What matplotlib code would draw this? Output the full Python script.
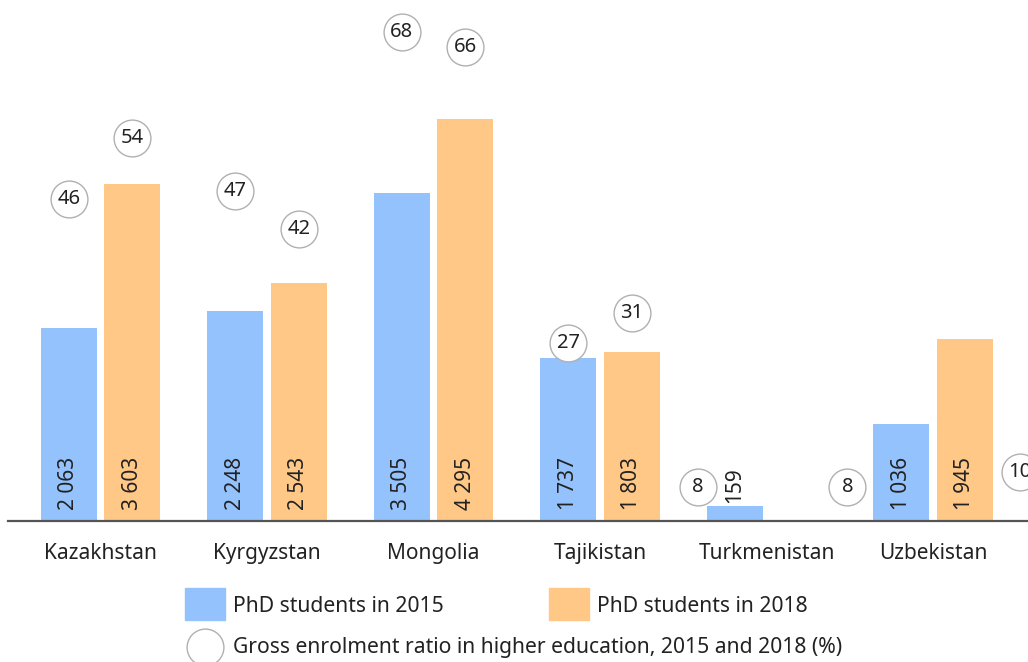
import matplotlib.pyplot as plt
from matplotlib.patches import Rectangle

countries = ['Kazakhstan', 'Kyrgyzstan', 'Mongolia', 'Tajikistan', 'Turkmenistan', 'Uzbekistan']
phd_2015 = [2063, 2248, 3505, 1737, 159, 1036]
phd_2018 = [3603, 2543, 4295, 1803, None, 1945]
ger_2015 = [46, 47, 68, 27, 8, None]
ger_2018 = [54, 42, 66, 31, 8, 10]

blue = '#94c2fc'
orange = '#ffc886'
plt.rcParams['font.family'] = ['Noto Sans', 'DejaVu Sans']

W, H = 1028, 662
fig = plt.figure(figsize=(W / 100, H / 100), dpi=100)
# axes run past the right edge, like the cropped original
ax = fig.add_axes([8 / W, (H - 521) / H, 1092 / W, 521 / H])
ax2 = ax.twinx()

bw = 0.336
off = 0.19
x = list(range(len(countries)))

def fmt(v):
    return f'{v:,}'.replace(',', ' ')

for i in x:
    for vals, col, dx in ((phd_2015, blue, -off), (phd_2018, orange, off)):
        v = vals[i]
        if v is None:
            continue
        ax.bar(i + dx, v, width=bw, color=col, zorder=2)
        if v > 500:
            ax.annotate(fmt(v), (i + dx, 0), xytext=(0, 8), textcoords='offset points',
                        rotation=90, ha='center', va='bottom', fontsize=15, color='#222')
        else:
            ax.annotate(fmt(v), (i + dx, v), xytext=(0, 2), textcoords='offset points',
                        rotation=90, ha='center', va='bottom', fontsize=15, color='#222')

ax.set_xlim((8 - 100.5) / 166.5, (1100 - 100.5) / 166.5)
ax.set_ylim(0, 5566)
ax.set_xticks(x)
ax.set_xticklabels(countries, fontsize=15, color='#222')
ax.tick_params(axis='x', length=0, pad=16)
ax.set_yticks([])
for s in ['top', 'right', 'left']:
    ax.spines[s].set_visible(False)
ax.spines['bottom'].set_color('#555')
ax.spines['bottom'].set_linewidth(1.6)

# enrolment circles on a second scale
shift_2015 = {4: -0.414}
shift_2018 = {4: 0.486, 5: 0.52}
ax2.set_ylim(3.56, 72.2)
ax2.set_yticks([])
for s in ax2.spines.values():
    s.set_visible(False)
for i in x:
    for vals, dx in ((ger_2015, shift_2015.get(i, -off)), (ger_2018, shift_2018.get(i, off))):
        v = vals[i]
        if v is None:
            continue
        ax2.plot(i + dx, v, 'o', ms=26.5, mfc='white', mec='#b0b0b0', mew=1.0, zorder=3,
                 clip_on=False)
        ax2.text(i + dx, v, str(v), ha='center', va='center', fontsize=14.5, color='#222',
                 zorder=4)

# legend drawn by hand
def fx(px):
    return px / W

def fy(py):
    return (H - py) / H

fig.add_artist(Rectangle((fx(185), fy(620)), 40 / W, 32 / H, transform=fig.transFigure,
                         color=blue))
fig.text(fx(233), fy(607), 'PhD students in 2015', fontsize=15.2, va='center', color='#222')
fig.add_artist(Rectangle((fx(549), fy(620)), 40 / W, 32 / H, transform=fig.transFigure,
                         color=orange))
fig.text(fx(597), fy(607), 'PhD students in 2018', fontsize=15.2, va='center', color='#222')
fig.add_artist(plt.Line2D([fx(205)], [fy(647)], marker='o', ms=26.5, mfc='white', mec='#b0b0b0',
                          mew=1.0, transform=fig.transFigure))
fig.text(fx(233), fy(648), 'Gross enrolment ratio in higher education, 2015 and 2018 (%)',
         fontsize=15.2, va='center', color='#222')

fig.savefig('out.png', dpi=100)
